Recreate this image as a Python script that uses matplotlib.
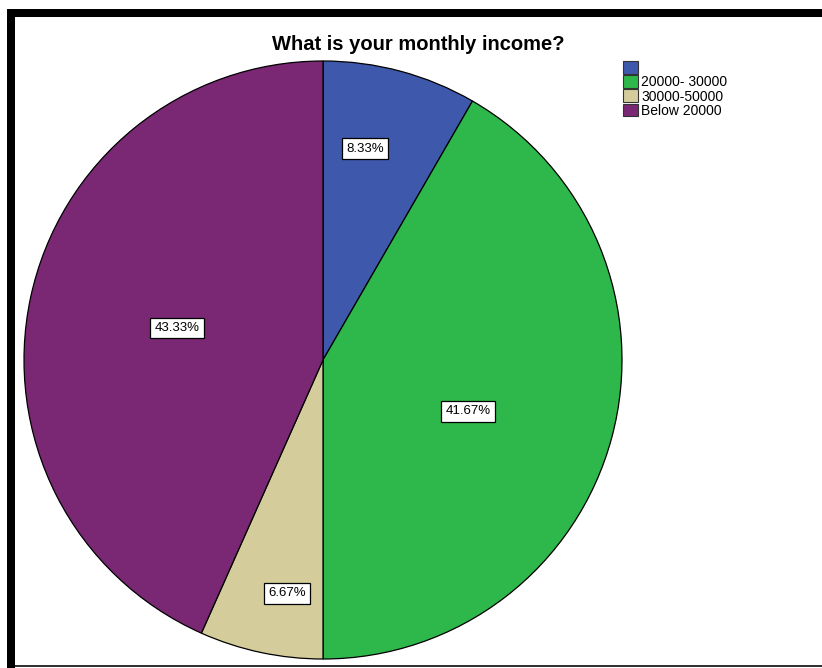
import numpy as np
import matplotlib
matplotlib.use("Agg")
import matplotlib.pyplot as plt
from matplotlib.patches import Rectangle

# Monthly income responses (counts)
categories = ["", "20000- 30000", "30000-50000", "Below 20000"]
counts = [5, 25, 4, 26]
colors = ["#3E58AC", "#2EB84B", "#D4CD9B", "#7A2774"]

# label placement: fraction of radius, angular nudge in degrees
label_radius = [0.72, 0.515, 0.79, 0.50]
label_nudge = [3.8, -4.4, 3.3, -0.4]

W, H = 822, 668
fig = plt.figure(figsize=(W / 100, H / 100), dpi=100)
fig.patch.set_facecolor("white")
plt.rcParams["font.family"] = ["Liberation Sans", "DejaVu Sans"]

# pie area: a 598 px square, centred at (323, 360) from top-left
cx, cy, r = 323, 360, 299
ax = fig.add_axes([(cx - r) / W, (H - cy - r) / H, 2 * r / W, 2 * r / H])
wedges, _ = ax.pie(counts, colors=colors, startangle=90, counterclock=False,
                   radius=1.0,
                   wedgeprops=dict(edgecolor="black", linewidth=0.9))
ax.set_xlim(-1, 1)
ax.set_ylim(-1, 1)
ax.set_aspect("equal")
ax.axis("off")
for w in wedges:
    w.set_clip_on(False)

total = sum(counts)
for w, c, lr, nudge in zip(wedges, counts, label_radius, label_nudge):
    mid = np.deg2rad((w.theta1 + w.theta2) / 2 + nudge)
    ax.text(lr * np.cos(mid), lr * np.sin(mid), f"{c / total * 100:.2f}%",
            ha="center", va="center", fontsize=9.5, color="black",
            bbox=dict(boxstyle="square,pad=0.33", facecolor="white",
                      edgecolor="black", linewidth=0.9))

fig.text(418 / W, 1 - 45 / H, "What is your monthly income?",
         ha="center", va="center", fontsize=14.5, fontweight="bold")

leg = fig.legend(wedges, categories, loc="upper left",
                 bbox_to_anchor=(623 / W, 1 - 61 / H),
                 frameon=False, fontsize=10, handlelength=1.05,
                 handleheight=1.05, handletextpad=0.25, labelspacing=0.0,
                 borderpad=0, borderaxespad=0)
for h in leg.legend_handles:
    h.set_edgecolor("#333333")
    h.set_linewidth(0.8)

# black frame: heavy left and top bars, thin bottom rule
fig.add_artist(Rectangle((7 / W, 0), 8 / W, 1 - 9 / H, transform=fig.transFigure,
                         facecolor="black", edgecolor="none"))
fig.add_artist(Rectangle((7 / W, 1 - 17 / H), 1 - 7 / W, 8 / H,
                         transform=fig.transFigure, facecolor="black",
                         edgecolor="none"))
fig.add_artist(Rectangle((15 / W, 1 / H), 1 - 15 / W, 2 / H,
                         transform=fig.transFigure, facecolor="#333333",
                         edgecolor="none"))

fig.savefig("out.png", dpi=100, facecolor="white")
